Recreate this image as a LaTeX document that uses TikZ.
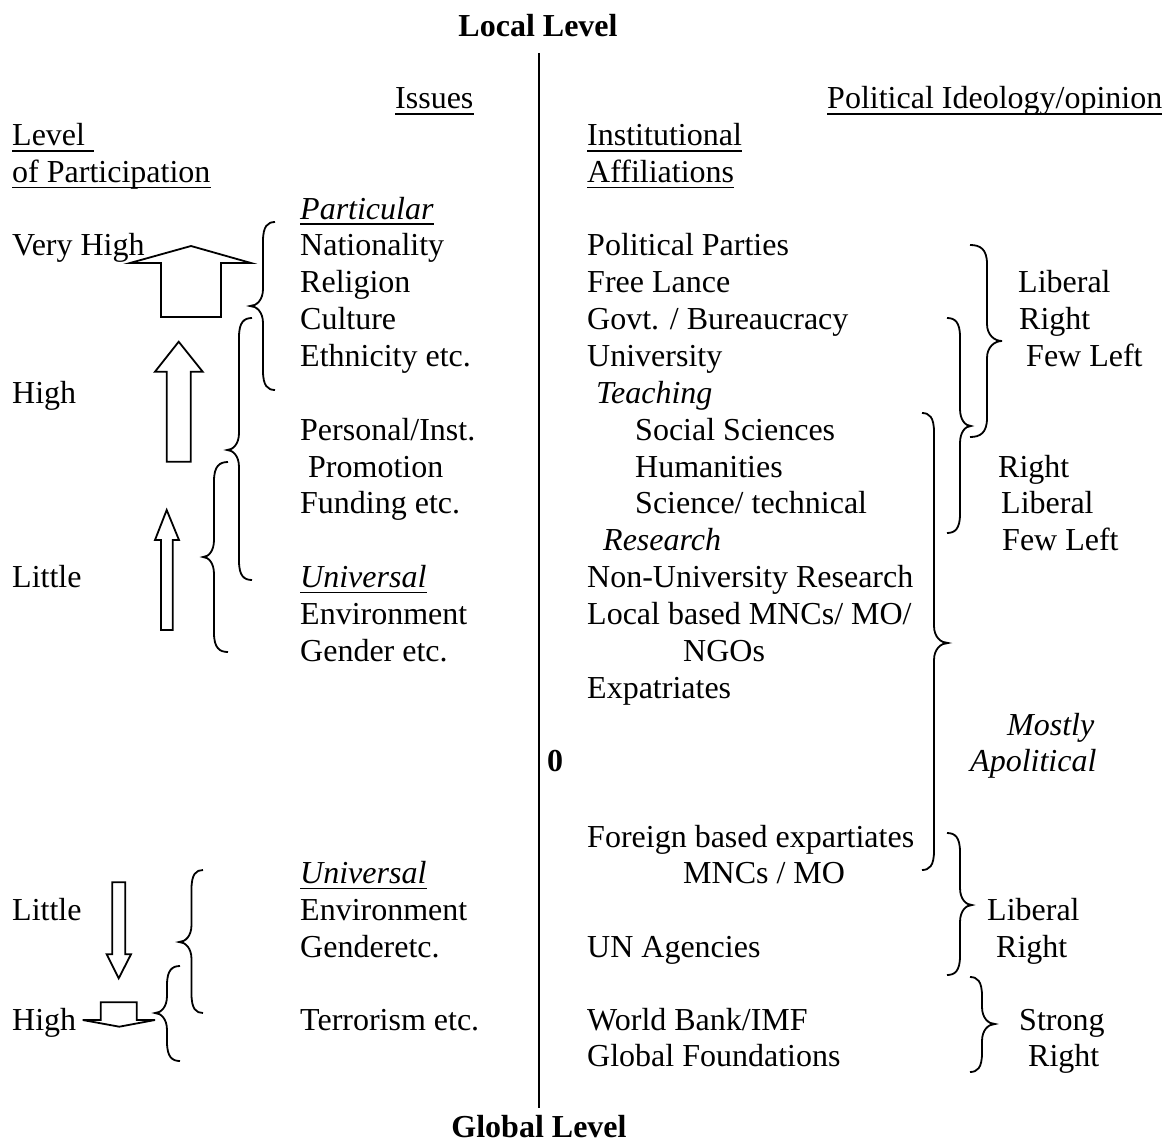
\documentclass[tikz,border=0pt]{standalone}
\usepackage{fontspec}
\setmainfont{Liberation Serif}
\newcommand{\mybrace}[6]{% end x, spine x, tip x, top y, mid y, bottom y
  \draw[br] (#1,#4) .. controls (#2+0.4*#1-0.4*#2,#4) and (#2,#4+4) .. (#2,#4+19) -- (#2,#5-17)
    .. controls (#2,#5-6) and (#3+0.5*#2-0.5*#3,#5) .. (#3,#5)
    .. controls (#3+0.5*#2-0.5*#3,#5) and (#2,#5+6) .. (#2,#5+17)
    -- (#2,#6-19) .. controls (#2,#6-4) and (#2+0.4*#1-0.4*#2,#6) .. (#1,#6);}
\begin{document}
\begin{tikzpicture}[x=1pt,y=-1pt,
  txt/.style={inner sep=0pt,anchor=base west,font=\fontsize{32}{37}\selectfont},
  itx/.style={txt,font=\fontsize{32}{37}\selectfont\itshape},
  bld/.style={inner sep=0pt,anchor=base,font=\fontsize{32}{37}\selectfont\bfseries},
  ul/.style={line width=1.8pt},
  br/.style={line width=1.8pt},
  arr/.style={line width=1.8pt,line join=miter}]
\useasboundingbox (0,0) rectangle (1169,1142);
% titles and axis
\node[bld] (local) at (538,37) {Local Level};
\node[bld] (global) at (539,1137) {Global Level};
\draw[line width=2pt] (539,53) -- (539,1108);
\node[txt,font=\fontsize{32}{37}\selectfont\bfseries] (zero) at (547,771) {0};
% headers
\node[txt] (issues) at (395,109) {Issues};
\node[txt] (polid) at (827,109) {Political Ideology/opinion};
\node[txt] (level) at (12,146) {Level};
\node[txt] (ofpart) at (12,182.5) {of Participation};
\node[txt] (inst) at (587,146) {Institutional};
\node[txt] (affil) at (587,182.5) {Affiliations};
\foreach \n in {issues,polid,ofpart,inst,affil}
  \draw[ul] ([yshift=-5pt]\n.base west) -- ([yshift=-5pt]\n.base east);
\draw[ul] ([yshift=-5pt]level.base west) -- ([yshift=-5pt,xshift=9pt]level.base east);
% left column
\node[txt] (vhigh) at (12,255.5) {Very High};
\node[txt] (high1) at (12,403) {High};
\node[txt] (little1) at (12,587.5) {Little};
\node[txt] (little2) at (12,920) {Little};
\node[txt] (high2) at (12,1030) {High};
% issues column
\node[itx] (partic) at (300,219) {Particular};
\node[txt] (nation) at (300,255.5) {Nationality};
\node[txt] (relig) at (300,292.5) {Religion};
\node[txt] (cult) at (300,329.5) {Culture};
\node[txt] (ethn) at (300,366.5) {Ethnicity etc.};
\node[txt] (pers) at (300,440) {Personal/Inst.};
\node[txt] (promo) at (308,477) {Promotion};
\node[txt] (fund) at (300,513.5) {Funding etc.};
\node[itx] (univ1) at (300,587.5) {Universal};
\node[txt] (env1) at (300,624) {Environment};
\node[txt] (gend1) at (300,661) {Gender etc.};
\node[itx] (univ2) at (300,883.5) {Universal};
\node[txt] (env2) at (300,920) {Environment};
\node[txt] (gend2) at (300,957) {Genderetc.};
\node[txt] (terr) at (300,1030) {Terrorism etc.};
\foreach \n in {partic,univ1,univ2}
  \draw[ul] ([yshift=-5pt]\n.base west) -- ([yshift=-5pt]\n.base east);
% institutions column
\node[txt] (pp) at (587,255.5) {Political Parties};
\node[txt] (fl) at (587,292.5) {Free Lance};
\node[txt] (govt) at (587,329.5) {Govt. / Bureaucracy};
\node[txt] (uni) at (587,366.5) {University};
\node[itx] (teach) at (596,403) {Teaching};
\node[txt] (soc) at (635,440) {Social Sciences};
\node[txt] (hum) at (635,477) {Humanities};
\node[txt] (sci) at (635,513.5) {Science/ technical};
\node[itx] (res) at (603,550.5) {Research};
\node[txt] (nonuni) at (587,587.5) {Non-University Research};
\node[txt] (localmnc) at (587,624) {Local based MNCs/ MO/};
\node[txt] (ngos) at (683,661) {NGOs};
\node[txt] (expat) at (587,698) {Expatriates};
\node[txt] (foreign) at (587,847) {Foreign based expartiates};
\node[txt] (mncmo) at (683,883.5) {MNCs / MO};
\node[txt] (un) at (587,957) {UN Agencies};
\node[txt] (wb) at (587,1030) {World Bank/IMF};
\node[txt] (gf) at (587,1066) {Global Foundations};
% ideology column
\node[txt] (lib1) at (1018,292.5) {Liberal};
\node[txt] (right1) at (1019,329.5) {Right};
\node[txt] (few1) at (1026,366.5) {Few Left};
\node[txt] (right2) at (998,477) {Right};
\node[txt] (lib2) at (1001,513.5) {Liberal};
\node[txt] (few2) at (1002,550.5) {Few Left};
\node[itx] (mostly) at (1007,735) {Mostly};
\node[itx] (apol) at (970,771) {Apolitical};
\node[txt] (lib3) at (987,920) {Liberal};
\node[txt] (right3) at (996,957) {Right};
\node[txt] (strong) at (1019,1030) {Strong};
\node[txt] (right4) at (1028,1066) {Right};
% block arrows
\draw[arr] (130,263) -- (191,246) -- (251,263) -- (221,263) -- (221,317) -- (161,317) -- (161,263) -- cycle;
\draw[arr] (178.7,341.7) -- (202.7,371.7) -- (190.7,371.7) -- (190.7,461.7) -- (166.7,461.7) -- (166.7,371.7) -- (155,371.7) -- cycle;
\draw[arr] (166.7,510) -- (179,540) -- (172.7,540) -- (172.7,630) -- (161,630) -- (161,540) -- (155,540) -- cycle;
\draw[arr] (118.7,978.3) -- (131,954.3) -- (125.3,954.3) -- (125.3,882.3) -- (112.3,882.3) -- (112.3,954.3) -- (106.7,954.3) -- cycle;
\draw[arr] (119.3,1026.7) -- (155,1020) -- (136.7,1020) -- (136.7,1002.3) -- (100.7,1002.3) -- (100.7,1020) -- (82.7,1020) -- cycle;
% braces, left column
\mybrace{275}{263}{250}{222}{306}{390}
\mybrace{252}{239}{227}{318}{450}{580}
\mybrace{228}{214}{203}{462}{557}{652}
\mybrace{203}{191.5}{179}{870}{942}{1013}
\mybrace{180}{167}{155}{966}{1013}{1061}
% braces, right column
\mybrace{970}{987}{1002}{245}{341}{437}
\mybrace{947}{960}{971}{318}{426}{533}
\mybrace{922}{934}{948}{413}{643}{870}
\mybrace{947}{960}{972}{833}{905}{975}
\mybrace{970}{982}{995}{977}{1024}{1072}
\end{tikzpicture}
\end{document}
